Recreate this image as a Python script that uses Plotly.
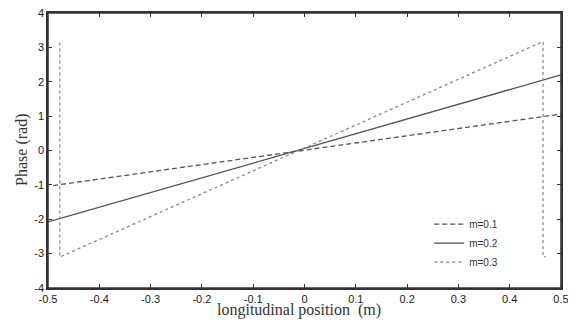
import plotly.graph_objects as go

# Data
x_m01 = [-0.49, 0.5]
y_m01 = [-1.02, 1.06]
x_m02 = [-0.5, 0.5]
y_m02 = [-2.08, 2.2]
x_m03 = [-0.477, -0.477, 0.465, 0.465, 0.47]
y_m03 = [3.14, -3.1, 3.17, -3.1, -3.08]

xticks = [-0.5, -0.4, -0.3, -0.2, -0.1, 0, 0.1, 0.2, 0.3, 0.4, 0.5]
xticklabels = ["-0.5", "-0.4", "-0.3", "-0.2", "-0.1", "0", "0.1", "0.2", "0.3", "0.4", "0.5"]
yticks = [-4, -3, -2, -1, 0, 1, 2, 3, 4]
yticklabels = ["-4", "-3", "-2", "-1", "0", "1", "2", "3", "4"]

fig = go.Figure()
fig.add_trace(go.Scatter(x=x_m01, y=y_m01, mode="lines", name="m=0.1",
                         line=dict(color="#555555", width=1.3, dash="5px,3px")))
fig.add_trace(go.Scatter(x=x_m02, y=y_m02, mode="lines", name="m=0.2",
                         line=dict(color="#505050", width=1.3)))
fig.add_trace(go.Scatter(x=x_m03, y=y_m03, mode="lines", name="m=0.3",
                         line=dict(color="#888888", width=1.3, dash="dot")))

axis_common = dict(showgrid=False, zeroline=False, showline=True, linecolor="#333333",
                   linewidth=1.5, mirror="ticks", ticks="inside", ticklen=4,
                   tickcolor="#333333", automargin=False, ticklabeloverflow="allow",
                   tickfont=dict(family="Liberation Sans, Arial", size=11, color="#1a1a1a"))

title_font = dict(family="Liberation Serif, Times New Roman", size=16, color="#333333")

# the page body has an 8px margin, so the figure is drawn offset by 8px
fig.update_layout(
    width=568, height=318,
    margin=dict(l=40, r=15, t=5, b=38),
    paper_bgcolor="white", plot_bgcolor="white",
    xaxis=dict(range=[-0.5, 0.5], tickvals=xticks, ticktext=xticklabels, **axis_common),
    yaxis=dict(range=[-4, 4], tickvals=yticks, ticktext=yticklabels, **axis_common),
    legend=dict(x=0.743, y=0.285, xanchor="left", yanchor="top",
                bgcolor="rgba(0,0,0,0)", borderwidth=0,
                font=dict(family="Liberation Sans, Arial", size=10, color="#333333"),
                tracegroupgap=0),
    showlegend=True,
    shapes=[dict(type="rect", xref="paper", yref="paper", x0=0, x1=1, y0=0, y1=1,
                 line=dict(color="#333333", width=1.5), fillcolor="rgba(0,0,0,0)",
                 layer="above")],
    annotations=[
        dict(text="longitudinal position  (m)", xref="paper", yref="paper",
             x=0.49, y=0, xanchor="center", yanchor="middle", yshift=-22,
             showarrow=False, font=title_font),
        dict(text="Phase (rad)", xref="paper", yref="paper",
             x=0, y=0.502, xanchor="center", yanchor="middle", xshift=-26,
             textangle=-90, showarrow=False, font=title_font),
    ],
)

fig.write_html("out.html")
